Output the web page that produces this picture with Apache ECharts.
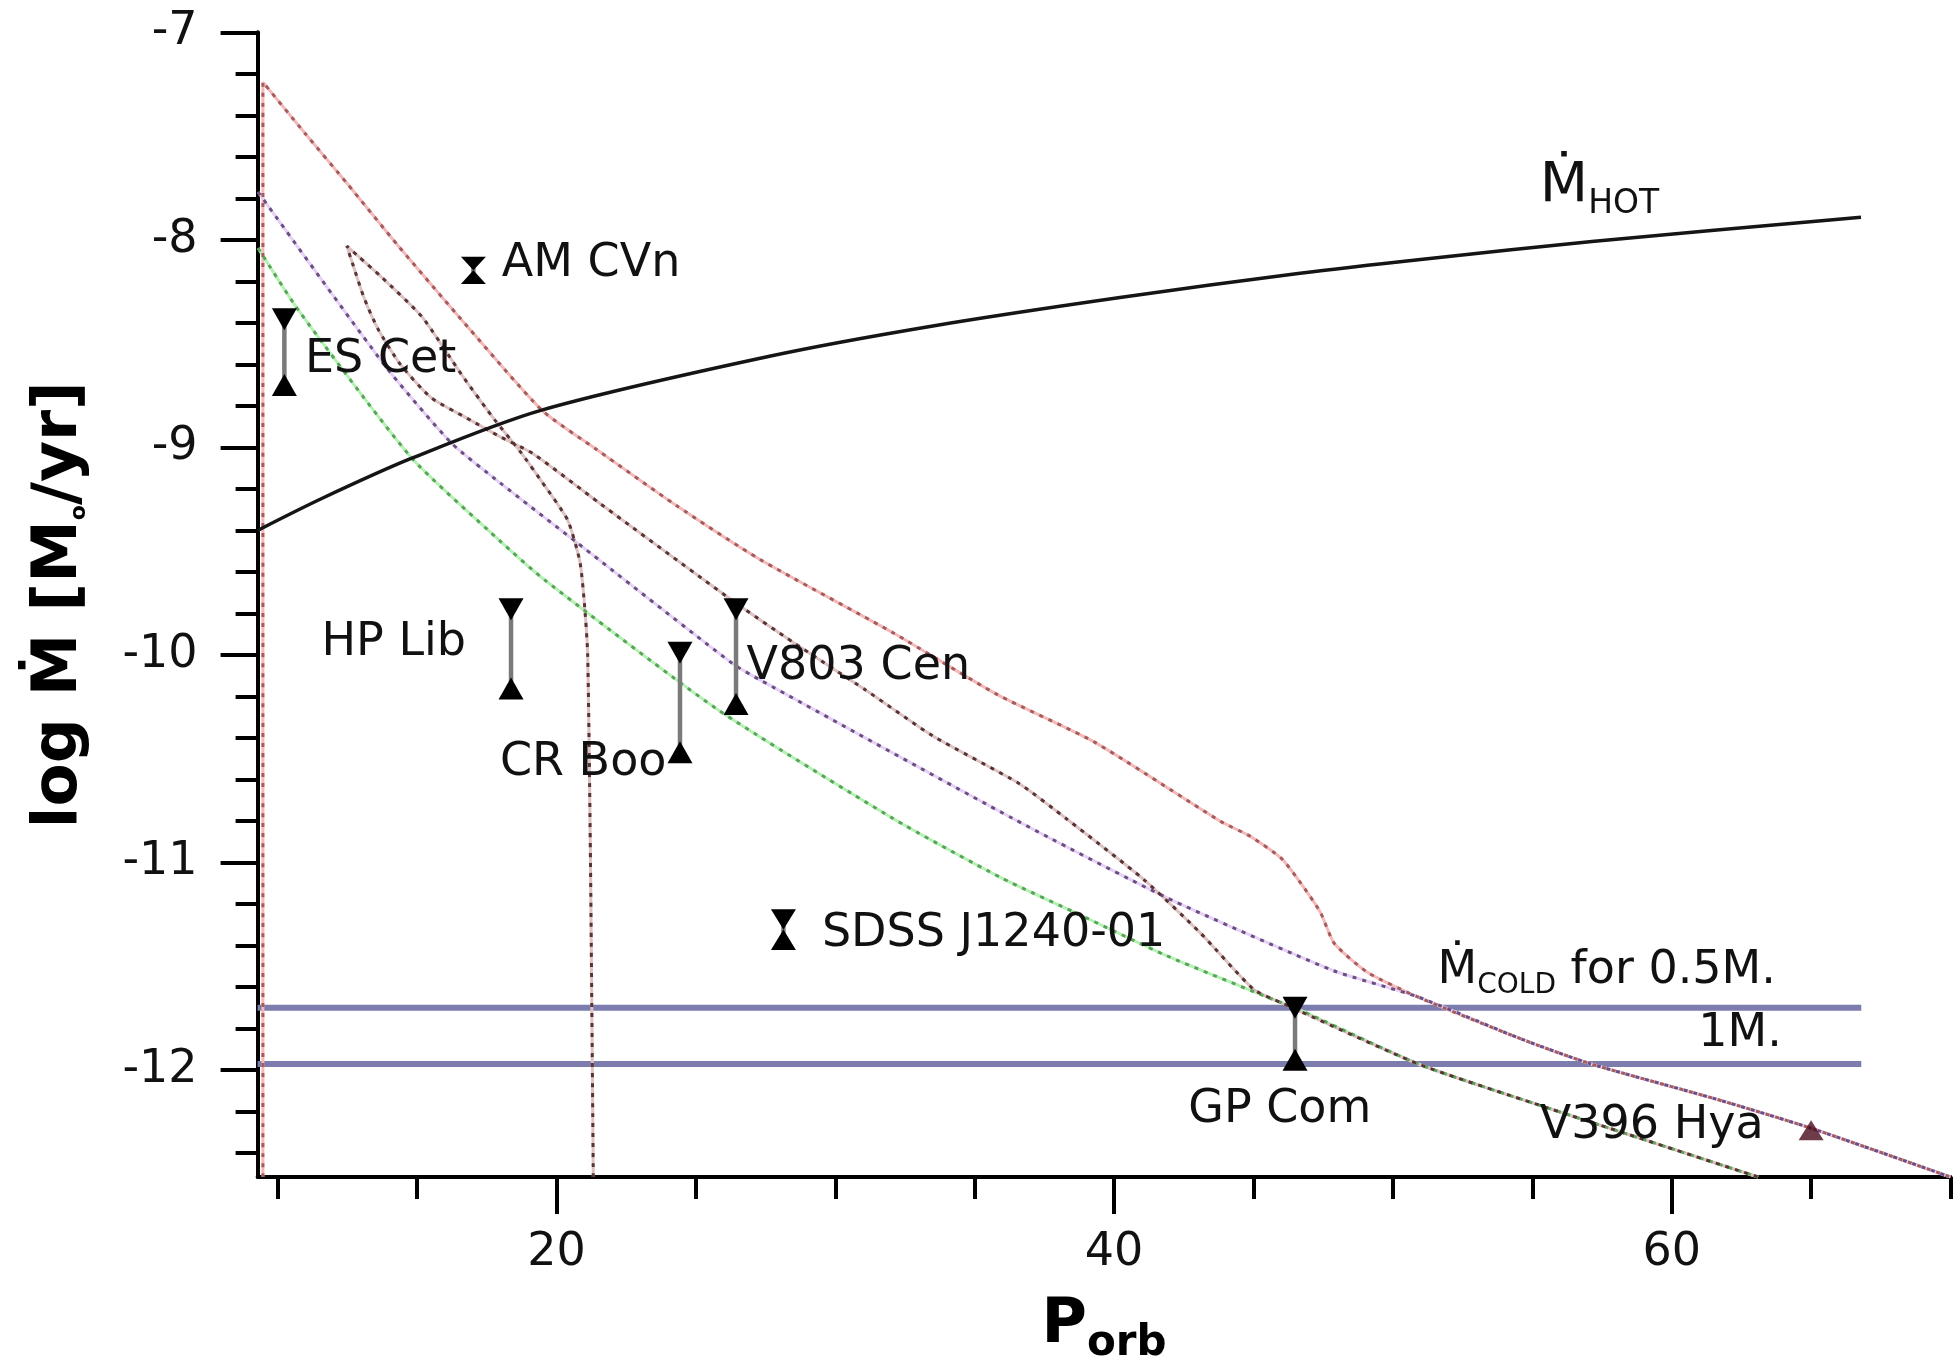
<!DOCTYPE html>
<html>
<head>
<meta charset="utf-8">
<script src="https://cdn.jsdelivr.net/npm/echarts@6/dist/echarts.min.js"></script>
<style>
html,body{margin:0;padding:0;background:#ffffff;}
#chart{width:1954px;height:1364px;}
</style>
</head>
<body>
<div id="chart"></div>
<script>
// ---------------- data ----------------
const xTickMajor = [20, 40, 60];
const xTickMinor = [10, 15, 25, 30, 35, 45, 50, 55, 65, 70];
const yTickMajor = [-12, -11, -10, -9, -8, -7];
const yTickMinor = [-12.4, -12.2, -11.8, -11.6, -11.4, -11.2, -10.8, -10.6, -10.4, -10.2,
                    -9.8, -9.6, -9.4, -9.2, -8.8, -8.6, -8.4, -8.2, -7.8, -7.6, -7.4, -7.2];

// M_dot_hot (black solid)
const hotP       = [9.28, 11.6, 14.81, 19.47, 27.6, 33.5, 40.21, 46.67, 51.16, 57.14, 66.79];
const hotLogMdot = [-9.40, -9.245, -9.052, -8.82, -8.562, -8.415, -8.278, -8.161, -8.092, -8.008, -7.891];

// M_dot_cold levels (blue)
const coldLevels = [-11.7, -11.97];
const coldPRange = [9.28, 66.8];

// evolutionary tracks (dotted)
const redP       = [9.47, 9.47, 11.0, 12.5, 14.33, 16.5, 19.47, 21.44, 24.3, 27.3, 32.1, 35.8, 39.3, 43.8, 44.9, 46.0, 46.7, 47.4, 47.9, 49.1, 50.85, 54.6, 57.1, 61.6, 65.0, 70.0];
const redLogMdot = [-12.515, -7.24, -7.49, -7.73, -8.03, -8.37, -8.82, -9.01, -9.28, -9.54, -9.895, -10.19, -10.42, -10.80, -10.875, -10.98, -11.10, -11.24, -11.39, -11.53, -11.645, -11.85, -11.97, -12.14, -12.28, -12.515];

const purpleP       = [9.30, 13.87, 16.24, 17.97, 20.7, 26.3, 27.3, 36.4, 41.9, 47.85, 50.85, 54.6, 57.1, 61.6, 65.0, 70.0];
const purpleLogMdot = [-7.77, -8.61, -8.98, -9.17, -9.455, -10.04, -10.12, -10.79, -11.17, -11.52, -11.645, -11.85, -11.97, -12.14, -12.28, -12.515];

const greenP       = [9.30, 10.75, 14.8, 17.97, 19.59, 25.75, 32.1, 35.9, 38.9, 41.9, 45.8, 46.5, 50.9, 54.6, 63.1];
const greenLogMdot = [-8.04, -8.34, -9.05, -9.45, -9.64, -10.26, -10.79, -11.07, -11.26, -11.45, -11.665, -11.70, -11.97, -12.14, -12.515];

const maroonP       = [21.32, 21.22, 21.12, 21.0, 20.84, 20.4, 19.5, 18.7, 17.8, 16.6, 15.17, 13.73, 12.9, 12.48,
                       12.7, 13.1, 13.6, 14.4, 15.5, 16.8, 18.0, 19.16, 21.56, 26.33, 28.5, 31.1, 33.5, 36.6, 38.3, 41.05, 43.1, 45.0, 46.07, 50.9, 54.6, 63.1];
const maroonLogMdot = [-12.515, -11.0, -10.0, -9.75, -9.55, -9.35, -9.17, -9.02, -8.87, -8.65, -8.37, -8.18, -8.08, -8.03,
                       -8.12, -8.28, -8.43, -8.60, -8.76, -8.86, -8.95, -9.03, -9.27, -9.74, -9.94, -10.17, -10.39, -10.62, -10.79, -11.08, -11.34, -11.61, -11.68, -11.97, -12.14, -12.515];

// observed systems (error bars)
const sysNames = ['AM CVn', 'ES Cet', 'HP Lib', 'CR Boo', 'V803 Cen', 'SDSS J1240-01', 'GP Com'];
const sysP     = [17.02, 10.24, 18.37, 24.43, 26.44, 28.14, 46.49];
const sysHigh  = [-8.081, -8.33, -9.727, -9.936, -9.727, -11.225, -11.646];
const sysLow   = [-8.213, -8.752, -10.214, -10.522, -10.289, -11.421, -12.003];
const v396P = [65.0];
const v396LogMdot = [-12.29];

// text annotations: text and anchor (left edge, vertical middle) in data space
const annotationTexts = ['AM CVn', 'ES Cet', 'HP Lib', 'V803 Cen', 'CR Boo', 'SDSS J1240-01', 'GP Com', 'V396 Hya', '1M.',
                         '{m|Ṁ}{s|COLD}{m| for 0.5M.}', '{h|Ṁ}{k|HOT}'];
const annotationAt = [[18.04, -8.117], [10.98, -8.577], [11.57, -9.941], [26.82, -10.056], [17.97, -10.522],
                      [29.52, -11.345], [42.66, -12.192], [55.27, -12.268], [60.95, -11.827],
                      [51.60, -11.522], [55.27, -7.744]];

// ---------------- chart ----------------
const FONT = 'DejaVu Sans';
const TXT = '#111111';
const zip = (xs, ys) => xs.map((x, i) => [x, ys[i]]);

function track(xs, ys, light, dark) {
  const data = zip(xs, ys);
  return [
    { type: 'line', data, showSymbol: false, smooth: 0.2, silent: true, z: 3,
      lineStyle: { color: light, width: 3 } },
    { type: 'line', data, showSymbol: false, smooth: 0.2, silent: true, z: 4,
      lineStyle: { color: dark, width: 3, type: [4, 6] } }
  ];
}

const chart = echarts.init(document.getElementById('chart'), null, { renderer: 'canvas' });

const series = [];
coldLevels.forEach(v => {
  series.push({ type: 'line', data: [[coldPRange[0], v], [coldPRange[1], v]], showSymbol: false, silent: true, z: 2,
    lineStyle: { color: '#7c7cae', width: 6 } });
});
series.push(...track(redP, redLogMdot, '#f4b8b8', '#a45c5c'));
series.push(...track(purpleP, purpleLogMdot, '#e6d0f6', '#6c4f82'));
series.push(...track(greenP, greenLogMdot, '#b4f2b4', '#5aa45a'));
series.push(...track(maroonP, maroonLogMdot, '#dcc2c2', '#5a3434'));
series.push({ type: 'line', data: zip(hotP, hotLogMdot), showSymbol: false, smooth: 0.3, silent: true, z: 6,
  lineStyle: { color: '#151515', width: 3.5 } });

series.push({
  type: 'custom', silent: true, z: 10,
  data: sysP.map((p, i) => [p, sysHigh[i], sysLow[i]]),
  encode: { x: 0, y: [1, 2] },
  renderItem(params, api) {
    const top = api.coord([api.value(0), api.value(1)]);
    const bot = api.coord([api.value(0), api.value(2)]);
    const x = top[0];
    const span = bot[1] - top[1];
    const h = Math.min(22, span / 2);
    const w = 12.5;
    return { type: 'group', children: [
      { type: 'line', shape: { x1: x, y1: top[1] + 4, x2: x, y2: bot[1] - 4 }, style: { stroke: '#7a7a7a', lineWidth: 4.5 } },
      { type: 'polygon', shape: { points: [[x - w, top[1]], [x + w, top[1]], [x, top[1] + h]] }, style: { fill: '#000' } },
      { type: 'polygon', shape: { points: [[x - w, bot[1]], [x + w, bot[1]], [x, bot[1] - h]] }, style: { fill: '#000' } }
    ] };
  }
});

series.push({ type: 'scatter', data: zip(v396P, v396LogMdot), symbol: 'triangle', symbolSize: [25, 20], silent: true, z: 10,
  itemStyle: { color: '#4a0a1a' } });

const annRich = {
  m: { fontFamily: FONT, fontSize: 46, lineHeight: 58, fill: TXT, color: TXT },
  s: { fontFamily: FONT, fontSize: 28, lineHeight: 28, verticalAlign: 'bottom', fill: TXT, color: TXT },
  h: { fontFamily: FONT, fontSize: 56, lineHeight: 68, fill: TXT, color: TXT },
  k: { fontFamily: FONT, fontSize: 33, lineHeight: 33, verticalAlign: 'bottom', fill: TXT, color: TXT }
};

series.push({
  type: 'custom', silent: true, z: 20,
  data: annotationAt.map((a, i) => [a[0], a[1], i]),
  encode: { x: 0, y: 1 },
  renderItem(params, api) {
    const pt = api.coord([api.value(0), api.value(1)]);
    const idx = api.value(2);
    return {
      type: 'text', x: pt[0], y: pt[1],
      style: {
        text: annotationTexts[idx],
        fontFamily: FONT, fontSize: 46, fill: TXT,
        align: 'left', verticalAlign: 'middle',
        rich: annRich
      }
    };
  }
});

const axisBase = { type: 'value', min: 9.28, max: 70, splitLine: { show: false } };
const yBase = { type: 'value', min: -12.515, max: -7, splitLine: { show: false } };

chart.setOption({
  animation: false,
  backgroundColor: '#ffffff',
  grid: { left: 257.6, right: 3.5, top: 32.3, bottom: 187, containLabel: false, outerBoundsMode: 'none' },
  xAxis: [
    Object.assign({}, axisBase, {
      position: 'bottom',
      axisLine: { show: true, onZero: false, lineStyle: { color: '#000', width: 4 } },
      axisTick: { show: true, customValues: xTickMajor, length: 37, lineStyle: { color: '#000', width: 4 } },
      axisLabel: { show: true, customValues: xTickMajor, margin: 53, fontFamily: FONT, fontSize: 46, color: TXT },
      name: '{p|P}{s|orb}', nameLocation: 'middle', nameGap: 109,
      nameTextStyle: {
        fontFamily: FONT, fontWeight: 'bold', fontSize: 62, color: '#000',
        rich: {
          p: { fontFamily: FONT, fontWeight: 'bold', fontSize: 62, lineHeight: 79, color: '#000' },
          s: { fontFamily: FONT, fontWeight: 'bold', fontSize: 42, lineHeight: 42, verticalAlign: 'bottom', color: '#000' }
        }
      }
    }),
    Object.assign({}, axisBase, {
      position: 'bottom',
      axisLine: { show: false, onZero: false },
      axisTick: { show: true, customValues: xTickMinor, length: 22, lineStyle: { color: '#000', width: 4 } },
      axisLabel: { show: false }
    })
  ],
  yAxis: [
    Object.assign({}, yBase, {
      position: 'left',
      axisLine: { show: true, onZero: false, lineStyle: { color: '#000', width: 4 } },
      axisTick: { show: true, customValues: yTickMajor, length: 37, lineStyle: { color: '#000', width: 4 } },
      axisLabel: { show: true, customValues: yTickMajor, margin: 60, fontFamily: FONT, fontSize: 46, color: TXT },
      name: '{n|log Ṁ [M}{c|o}{n|/yr]}', nameLocation: 'middle', nameRotate: 90, nameGap: 167,
      nameTextStyle: {
        fontFamily: FONT, fontWeight: 'bold', fontSize: 63, color: '#000',
        rich: {
          n: { fontFamily: FONT, fontWeight: 'bold', fontSize: 63, lineHeight: 62, color: '#000' },
          c: { fontFamily: FONT, fontWeight: 'bold', fontSize: 22, lineHeight: 22, verticalAlign: 'bottom', color: '#000' }
        }
      }
    }),
    Object.assign({}, yBase, {
      position: 'left',
      axisLine: { show: false, onZero: false },
      axisTick: { show: true, customValues: yTickMinor, length: 22, lineStyle: { color: '#000', width: 4 } },
      axisLabel: { show: false }
    })
  ],
  series: series
});
</script>
</body>
</html>
